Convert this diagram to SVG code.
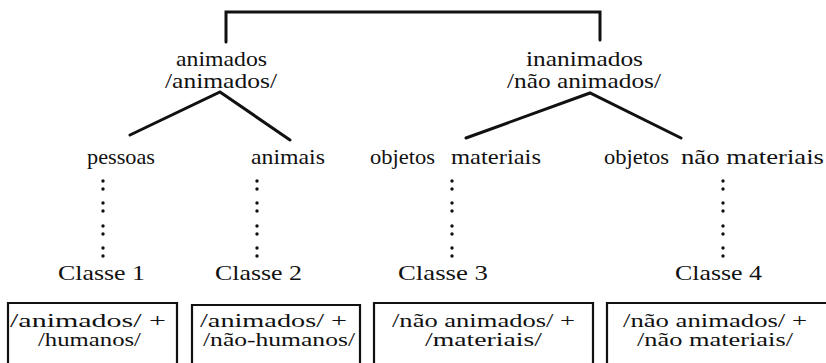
<svg xmlns="http://www.w3.org/2000/svg" width="826" height="363" viewBox="0 0 826 363">
<style>
.ln{stroke:#111;stroke-width:3;fill:none;stroke-linecap:round;stroke-linejoin:miter}
.box{stroke:#111;stroke-width:2.2;fill:none}
.bt{font-size:19px}
.d{fill:#111}
</style>
<rect width="826" height="363" fill="#fff"/>
<g id="connectors">
<path class="ln" d="M226 42 V12 H600 V40"/>
<path class="ln" d="M130 135 L220 92 L290 140"/>
<path class="ln" d="M466 138 L590 93 L681 138"/>
</g>
<g font-family="Liberation Serif, serif" font-size="21" fill="#111" xml:space="preserve">
<g id="animados">
<text x="176" y="66" textLength="91" lengthAdjust="spacingAndGlyphs">animados</text>
<text x="165" y="88" textLength="112" lengthAdjust="spacingAndGlyphs">/animados/</text>
</g>
<g id="inanimados">
<text x="526" y="66" textLength="117" lengthAdjust="spacingAndGlyphs">inanimados</text>
<text x="507" y="88" textLength="154" lengthAdjust="spacingAndGlyphs">/não animados/</text>
</g>
<g id="pessoas"><text x="87" y="164" textLength="68" lengthAdjust="spacingAndGlyphs">pessoas</text></g>
<g id="animais"><text x="251" y="164" textLength="74" lengthAdjust="spacingAndGlyphs">animais</text></g>
<g id="objetos-materiais">
<text x="370" y="164" textLength="65" lengthAdjust="spacingAndGlyphs">objetos</text>
<text x="451" y="164" textLength="90" lengthAdjust="spacingAndGlyphs">materiais</text>
</g>
<g id="objetos-nao-materiais">
<text x="604" y="164" textLength="65" lengthAdjust="spacingAndGlyphs">objetos</text>
<text x="681" y="164" textLength="143" lengthAdjust="spacingAndGlyphs">não materiais</text>
</g>
<g id="dots">
<circle class="d" cx="103" cy="181" r="1.7"/><circle class="d" cx="103" cy="189" r="1.7"/>
<circle class="d" cx="103" cy="203" r="1.7"/><circle class="d" cx="103" cy="211" r="1.7"/>
<circle class="d" cx="103" cy="226" r="1.7"/><circle class="d" cx="103" cy="234" r="1.7"/>
<circle class="d" cx="103" cy="248" r="1.7"/><circle class="d" cx="103" cy="256" r="1.7"/>
<circle class="d" cx="257" cy="181" r="1.7"/><circle class="d" cx="257" cy="189" r="1.7"/>
<circle class="d" cx="257" cy="203" r="1.7"/><circle class="d" cx="257" cy="211" r="1.7"/>
<circle class="d" cx="257" cy="226" r="1.7"/><circle class="d" cx="257" cy="234" r="1.7"/>
<circle class="d" cx="257" cy="248" r="1.7"/><circle class="d" cx="257" cy="256" r="1.7"/>
<circle class="d" cx="452" cy="181" r="1.7"/><circle class="d" cx="452" cy="189" r="1.7"/>
<circle class="d" cx="452" cy="203" r="1.7"/><circle class="d" cx="452" cy="211" r="1.7"/>
<circle class="d" cx="452" cy="226" r="1.7"/><circle class="d" cx="452" cy="234" r="1.7"/>
<circle class="d" cx="452" cy="248" r="1.7"/><circle class="d" cx="452" cy="256" r="1.7"/>
<circle class="d" cx="723" cy="181" r="1.7"/><circle class="d" cx="723" cy="189" r="1.7"/>
<circle class="d" cx="723" cy="203" r="1.7"/><circle class="d" cx="723" cy="211" r="1.7"/>
<circle class="d" cx="723" cy="226" r="1.7"/><circle class="d" cx="723" cy="234" r="1.7"/>
<circle class="d" cx="723" cy="248" r="1.7"/><circle class="d" cx="723" cy="256" r="1.7"/>
</g>
<g id="classe1">
<text x="58" y="280" textLength="87" lengthAdjust="spacingAndGlyphs">Classe   1</text>
<path class="box" d="M8 380 V303 H177 V380"/>
<text class="bt" x="10" y="327" textLength="156" lengthAdjust="spacingAndGlyphs">/animados/  +</text>
<text class="bt" x="38" y="346" textLength="103" lengthAdjust="spacingAndGlyphs">/humanos/</text>
</g>
<g id="classe2">
<text x="215" y="280" textLength="87" lengthAdjust="spacingAndGlyphs">Classe   2</text>
<path class="box" d="M192 380 V305 H360 V380"/>
<text class="bt" x="200" y="327" textLength="147" lengthAdjust="spacingAndGlyphs">/animados/  +</text>
<text class="bt" x="203" y="346" textLength="152" lengthAdjust="spacingAndGlyphs">/não-humanos/</text>
</g>
<g id="classe3">
<text x="398" y="280" textLength="90" lengthAdjust="spacingAndGlyphs">Classe   3</text>
<path class="box" d="M374 380 V303 H593 V380"/>
<text class="bt" x="392" y="327" textLength="183" lengthAdjust="spacingAndGlyphs">/não animados/ +</text>
<text class="bt" x="425" y="346" textLength="117" lengthAdjust="spacingAndGlyphs">/materiais/</text>
</g>
<g id="classe4">
<text x="675" y="280" textLength="87" lengthAdjust="spacingAndGlyphs">Classe   4</text>
<path class="box" d="M607 380 V303 H840"/>
<text class="bt" x="623" y="327" textLength="184" lengthAdjust="spacingAndGlyphs">/não animados/ +</text>
<text class="bt" x="637" y="346" textLength="156" lengthAdjust="spacingAndGlyphs">/não materiais/</text>
</g>
</g>
</svg>
